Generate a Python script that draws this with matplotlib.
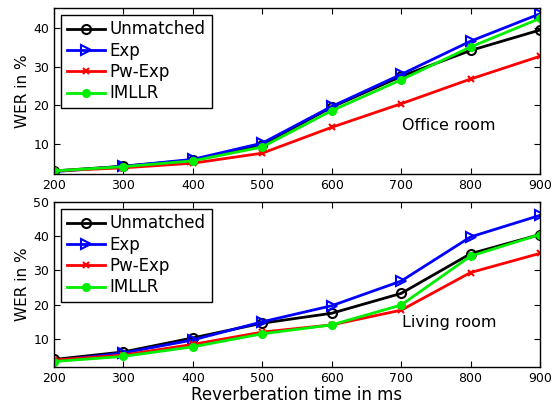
import matplotlib
matplotlib.use('Agg')
import numpy as np
import matplotlib.pyplot as plt

reverb = [200, 300, 400, 500, 600, 700, 800, 900]
methods = ['Unmatched', 'Exp', 'Pw-Exp', 'IMLLR']

office = {
    'Unmatched': [3.0, 4.2, 5.8, 9.8, 19.5, 27.5, 34.2, 39.5],
    'Exp':       [2.8, 4.2, 6.0, 10.2, 19.7, 28.0, 36.6, 43.7],
    'Pw-Exp':    [3.0, 3.8, 5.0, 7.6, 14.3, 20.4, 26.8, 32.7],
    'IMLLR':     [3.0, 4.1, 5.6, 9.2, 18.6, 26.6, 35.1, 42.5],
}
living = {
    'Unmatched': [4.0, 6.2, 10.3, 14.6, 17.5, 23.3, 34.9, 40.5],
    'Exp':       [3.6, 5.9, 9.7, 15.0, 19.7, 26.9, 39.8, 46.1],
    'Pw-Exp':    [3.8, 5.3, 8.4, 12.0, 14.1, 18.4, 29.4, 35.0],
    'IMLLR':     [3.4, 4.9, 7.7, 11.5, 14.1, 19.9, 34.2, 40.5],
}

styles = {
    'Unmatched': dict(color='k', marker='o', mfc='none', mec='k', ms=6.5, mew=1.5),
    'Exp':       dict(color='#0000ff', marker='>', mfc='none', mec='#0000ff', ms=7, mew=1.5),
    'Pw-Exp':    dict(color='#ff0000', marker='x', ms=4.5, mew=1.5),
    'IMLLR':     dict(color='#00ee00', marker='o', mfc='#00ee00', mec='#00ee00', ms=5.5),
}

fig = plt.figure(figsize=(5.58, 4.07), dpi=100)
ax1 = fig.add_axes([54/558, 1-174/407, 486/558, 166/407])
ax2 = fig.add_axes([54/558, 1-367/407, 486/558, 165/407])

for ax, data, ylim, yt, label in [
        (ax1, office, (2.2, 45.2), [10, 20, 30, 40], 'Office room'),
        (ax2, living, (1.8, 50), [10, 20, 30, 40, 50], 'Living room')]:
    for m in methods:
        ax.plot(reverb, data[m], lw=2, label=m, **styles[m])
    ax.set_xlim(200, 900)
    ax.set_ylim(*ylim)
    ax.set_xticks(reverb)
    ax.set_yticks(yt)
    ax.tick_params(direction='in', top=True, right=True, labelsize=9, length=4)
    ax.set_ylabel('WER in %', fontsize=11, labelpad=2)
    ax.text(701, 14.8, label, fontsize=11.5, va='center')
    leg = ax.legend(loc='upper left', fontsize=12, fancybox=False, framealpha=1,
                    edgecolor='k', handlelength=2.3, borderpad=0.35,
                    labelspacing=0.2, handletextpad=0.3, borderaxespad=0.4)
    leg.get_frame().set_linewidth(1)
    for s in ax.spines.values():
        s.set_linewidth(1)

ax2.set_xlabel('Reverberation time in ms', fontsize=12, labelpad=1)

fig.savefig('out.png', dpi=100)
